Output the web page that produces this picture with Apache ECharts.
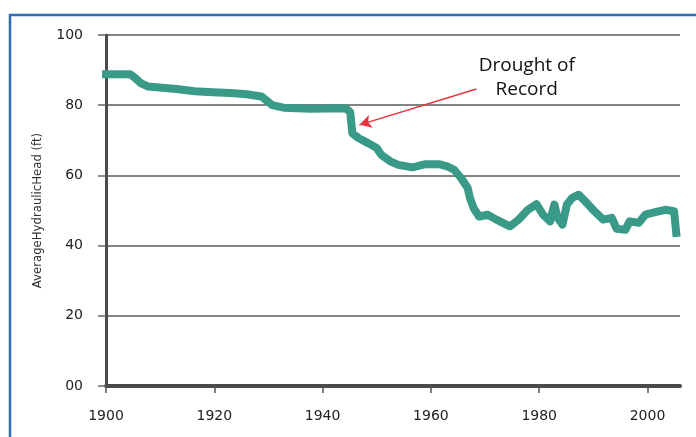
<!DOCTYPE html>
<html>
<head>
<meta charset="utf-8">
<script src="https://cdn.jsdelivr.net/npm/echarts@6/dist/echarts.min.js"></script>
<style>html,body{margin:0;padding:0;background:#fff;}#c{width:696px;height:437px;}</style>
</head>
<body>
<div id="c"></div>
<script>
// Data
var years = [1900, 1904.5, 1905.5, 1906.5, 1907.8, 1913, 1916.4, 1919.7, 1923, 1926, 1928.7, 1929.5, 1930.7, 1932.8, 1937.7, 1944.3, 1945.1, 1945.5, 1946.7, 1948.4, 1950, 1950.8, 1952.5, 1954, 1956.6, 1959, 1961.5, 1963, 1964.3, 1965.6, 1966.8, 1967.2, 1967.9, 1968.9, 1970.5, 1972.1, 1974.6, 1976.2, 1977.9, 1979.5, 1980.7, 1982, 1982.8, 1983.4, 1984.3, 1985.1, 1986.1, 1987.3, 1988.5, 1990.2, 1991.8, 1993.4, 1994.3, 1995.9, 1996.7, 1998.4, 1999.6, 2001.6, 2003.3, 2004.9, 2005.3];
var heads = [88.8, 88.8, 87.6, 86.2, 85.3, 84.6, 84.0, 83.7, 83.5, 83.1, 82.5, 81.5, 80.0, 79.3, 79.0, 79.1, 78.0, 72.0, 70.6, 69.2, 67.8, 65.9, 64.0, 63.0, 62.3, 63.2, 63.2, 62.6, 61.6, 59.2, 56.4, 53.6, 50.7, 48.3, 48.8, 47.4, 45.5, 47.4, 50.2, 51.8, 48.8, 46.9, 51.7, 47.9, 46.0, 51.7, 53.6, 54.5, 52.6, 49.8, 47.4, 47.9, 44.8, 44.5, 46.9, 46.5, 48.8, 49.6, 50.2, 49.8, 43.6];
var xTickValues = [1900, 1920, 1940, 1960, 1980, 2000];
var yTickLabels = ['00', '20', '40', '60', '80', '100'];
var annotationText = 'Drought of\nRecord';
var arrowFrom = [1968.4, 84.6];
var arrowTo = [1946.8, 74.4];
var annotationAt = [1977.7, 87.8];

var chart = echarts.init(document.getElementById('c'), null, {renderer: 'canvas'});
var lineData = years.map(function (y, i) { return [y, heads[i]]; });

chart.setOption({
  backgroundColor: '#ffffff',
  animation: false,
  graphic: [{
    type: 'rect',
    shape: {x: 10, y: 15, width: 720, height: 460},
    style: {fill: 'none', stroke: '#2b6cb3', lineWidth: 2.5},
    silent: true,
    z: 100
  }],
  grid: {left: 106, right: 16, top: 35, bottom: 51, containLabel: false},
  xAxis: {
    type: 'value',
    min: 1900,
    max: 2006,
    interval: 20,
    axisLine: {show: true, onZero: false, lineStyle: {color: '#4a4a4a', width: 4}},
    axisTick: {show: true, length: 7, customValues: xTickValues, lineStyle: {color: '#555', width: 1.5}},
    axisLabel: {
      customValues: xTickValues,
      margin: 23,
      color: '#222',
      fontFamily: '"DejaVu Sans", Verdana, sans-serif',
      fontSize: 14,
      formatter: function (v) { return String(v); }
    },
    splitLine: {show: false}
  },
  yAxis: {
    type: 'value',
    min: 0,
    max: 100,
    interval: 20,
    name: 'AverageHydraulicHead (ft)',
    nameLocation: 'middle',
    nameGap: 62,
    nameTextStyle: {color: '#333', fontFamily: '"Liberation Sans Narrow", "DejaVu Sans Condensed", sans-serif', fontSize: 13},
    axisLine: {show: true, lineStyle: {color: '#4a4a4a', width: 3}},
    axisTick: {show: true, length: 8, lineStyle: {color: '#666', width: 1.5}},
    axisLabel: {
      margin: 23,
      color: '#222',
      fontFamily: '"DejaVu Sans", Verdana, sans-serif',
      fontSize: 14,
      formatter: function (v) { return yTickLabels[Math.round(v / 20)]; }
    },
    splitLine: {show: true, lineStyle: {color: '#5a5a5a', width: 1.5}}
  },
  series: [{
    type: 'line',
    data: lineData,
    showSymbol: false,
    smooth: false,
    lineStyle: {color: '#3a9a88', width: 8, cap: 'square', join: 'round'},
    z: 3,
    markLine: {
      silent: true,
      symbol: ['none', 'arrow'],
      symbolSize: [10, 12],
      lineStyle: {color: '#e8323c', width: 1.5, type: 'solid'},
      label: {show: false},
      data: [[{coord: arrowFrom}, {coord: arrowTo}]]
    },
    markPoint: {
      silent: true,
      symbol: 'circle',
      symbolSize: 0,
      data: [{coord: annotationAt}],
      label: {
        show: true,
        position: 'inside',
        formatter: annotationText,
        color: '#111',
        fontFamily: '"Open Sans", Lato, sans-serif',
        fontSize: 19,
        lineHeight: 24,
        align: 'center'
      }
    }
  }]
});
</script>
</body>
</html>
